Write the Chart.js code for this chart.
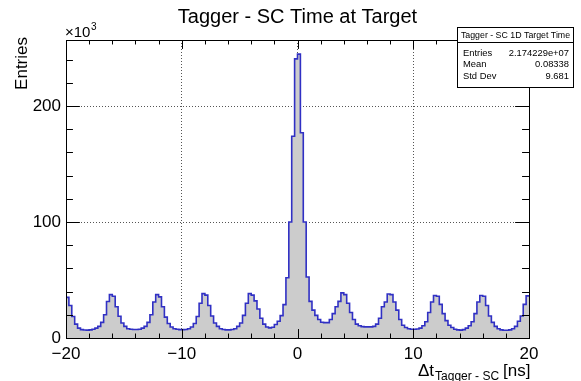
<!DOCTYPE html>
<html>
<head>
<meta charset="utf-8">
<script src="https://cdn.jsdelivr.net/npm/chart.js@4/dist/chart.umd.min.js"></script>
<style>
html,body{margin:0;padding:0;background:#fff;}
#wrap{width:581px;height:381px;position:relative;}
canvas{display:block;}
</style>
</head>
<body>
<div id="wrap"><canvas id="c" width="581" height="381"></canvas></div>
<script>
// ---- data (counts in units of 10^3 entries) ----
const histTitle = "Tagger - SC Time at Target";
const statsTitle = "Tagger - SC 1D Target Time";
const statsNames = ["Entries", "Mean", "Std Dev"];
const statsValues = ["2.174229e+07", "0.08338", "9.681"];
const binLow = -20;
const binWidth = 0.25;
const counts = [
  35, 28, 18.5, 12, 8.5, 7.2, 6.9, 6.8,
  7.0, 7.5, 8.5, 10, 13.5, 20, 31.5, 37.4,
  36, 27, 18.7, 13, 10, 8, 7.5, 7.3,
  7.3, 7.5, 8.5, 10, 13.5, 20, 31, 37.4,
  35.5, 27, 18, 12.5, 9.5, 8, 7.5, 7.2,
  7.2, 7.3, 8, 9.5, 12.5, 18.5, 30, 38.3,
  37, 28, 19, 13, 10, 8, 7.3, 7.0,
  7.0, 7.3, 8, 10, 13, 19.5, 30, 38.3,
  37, 32, 25, 17, 12, 9.5, 8.7, 9.3,
  11.6, 14.5, 19.3, 28.8, 52, 100, 174, 240.7,
  244.8, 177, 100, 52.6, 31.6, 24, 19.5, 16,
  13.6, 13.3, 13.3, 16, 21, 27, 31.6, 38.9,
  37.4, 30, 22, 16, 12, 10.5, 9.8, 9.6,
  9.6, 9.6, 10, 12, 17, 27, 31, 38,
  37.4, 31, 24, 16, 11, 9, 8, 7.6,
  7.6, 7.8, 8.5, 10.5, 14, 22, 31, 36.6,
  36, 29, 21, 15, 11, 9, 7.5, 7,
  6.8, 7.2, 8.5, 10.5, 14, 21, 31, 36.6,
  36, 28, 19, 13.5, 10, 8, 7, 6.7,
  6.7, 7, 8, 10, 14.5, 19, 29, 36.3
];
const xMin = -20, xMax = 20, yMin = 0, yMax = 257;
const xMajor = 10, xMinor = 2, yMajor = 100, yMinor = 20;

// stepped outline points at bin edges
const pts = counts.map((c, i) => ({x: binLow + i * binWidth, y: c}));
pts.push({x: binLow + counts.length * binWidth, y: counts[counts.length - 1]});

const FONT = "'Liberation Sans', Arial, Helvetica, sans-serif";

const rootPlugin = {
  id: 'rootDecor',
  afterDatasetsDraw(chart) {
    const ctx = chart.ctx, a = chart.chartArea;
    const xs = chart.scales.x, ys = chart.scales.y;
    ctx.save();
    // frame
    ctx.strokeStyle = '#000';
    ctx.lineWidth = 1;
    ctx.strokeRect(Math.round(a.left) + 0.5, Math.round(a.top) + 0.5,
                   Math.round(a.right - a.left), Math.round(a.bottom - a.top));
    // ticks (inward on all four sides)
    const H = a.bottom - a.top, W = a.right - a.left;
    const xMajLen = 0.03 * H, yMajLen = 0.03 * W;
    ctx.beginPath();
    for (let v = xMin; v <= xMax + 1e-9; v += xMinor) {
      const px = Math.round(xs.getPixelForValue(v)) + 0.5;
      const isMaj = Math.abs(v / xMajor - Math.round(v / xMajor)) < 1e-6;
      const len = isMaj ? xMajLen : xMajLen / 2;
      ctx.moveTo(px, a.bottom); ctx.lineTo(px, a.bottom - len);
      ctx.moveTo(px, a.top); ctx.lineTo(px, a.top + len);
    }
    for (let v = yMin; v <= yMax + 1e-9; v += yMinor) {
      const py = Math.round(ys.getPixelForValue(v)) + 0.5;
      const isMaj = Math.abs(v / yMajor - Math.round(v / yMajor)) < 1e-6;
      const len = isMaj ? yMajLen : yMajLen / 2;
      ctx.moveTo(a.left, py); ctx.lineTo(a.left + len, py);
      ctx.moveTo(a.right, py); ctx.lineTo(a.right - len, py);
    }
    ctx.stroke();

    ctx.fillStyle = '#000';
    // main title
    ctx.font = '20px ' + FONT;
    ctx.textAlign = 'center';
    ctx.textBaseline = 'alphabetic';
    ctx.fillText(histTitle, (a.left + a.right) / 2, 23);

    // x10^3
    ctx.textAlign = 'left';
    ctx.font = '15px ' + FONT;
    ctx.fillText('\u00d710', 65, 37);
    const w10 = ctx.measureText('\u00d710').width;
    ctx.font = '10px ' + FONT;
    ctx.fillText('3', 65 + w10 + 0.5, 30);

    // y title
    ctx.save();
    ctx.translate(27, 37);
    ctx.rotate(-Math.PI / 2);
    ctx.font = '17px ' + FONT;
    ctx.textAlign = 'right';
    ctx.fillText('Entries', 0, 0);
    ctx.restore();

    // x title with subscript
    let x0 = 418;
    ctx.textAlign = 'left';
    ctx.font = '17px ' + FONT;
    ctx.fillText('\u0394t', x0, 376);
    x0 += ctx.measureText('\u0394t').width + 1;
    ctx.font = '12px ' + FONT;
    ctx.fillText('Tagger - SC', x0, 379.5);
    x0 += ctx.measureText('Tagger - SC').width + 4;
    ctx.font = '17px ' + FONT;
    ctx.fillText('[ns]', x0, 376);

    // stats box
    const bx = 457, by = 27, bw = 116, bh = 60;
    ctx.fillStyle = '#fff';
    ctx.fillRect(bx, by, bw, bh);
    ctx.strokeStyle = '#000';
    ctx.lineWidth = 1;
    ctx.strokeRect(bx + 0.5, by + 0.5, bw, bh);
    ctx.beginPath();
    ctx.moveTo(bx, 42.5); ctx.lineTo(bx + bw, 42.5);
    ctx.stroke();
    ctx.fillStyle = '#000';
    ctx.font = '8.8px ' + FONT;
    ctx.textAlign = 'center';
    ctx.textBaseline = 'middle';
    ctx.fillText(statsTitle, bx + bw / 2 + 0.5, 35.5);
    ctx.font = '9.4px ' + FONT;
    const rowY = [53, 64.5, 76];
    for (let i = 0; i < statsNames.length; i++) {
      ctx.textAlign = 'left';
      ctx.fillText(statsNames[i], bx + 6, rowY[i]);
      ctx.textAlign = 'right';
      ctx.fillText(statsValues[i], bx + bw - 4, rowY[i]);
    }
    ctx.restore();
  }
};

new Chart(document.getElementById('c'), {
  type: 'line',
  data: {
    datasets: [{
      data: pts,
      stepped: 'before',
      borderColor: '#3030c4',
      borderWidth: 1.6,
      backgroundColor: '#cccccc',
      fill: 'origin',
      pointRadius: 0,
      tension: 0
    }]
  },
  options: {
    responsive: false,
    animation: false,
    events: [],
    layout: {padding: {top: 40, right: 52, left: 0, bottom: 0}},
    plugins: {legend: {display: false}, tooltip: {enabled: false}, title: {display: false}},
    scales: {
      x: {
        type: 'linear', min: xMin, max: xMax,
        afterFit(s) { s.height = 43; },
        ticks: {
          stepSize: xMajor, includeBounds: false, autoSkip: false, maxRotation: 0,
          padding: 6, color: '#000',
          font: {family: FONT, size: 17},
          callback: v => (v < 0 ? '\u2212' + Math.abs(v) : String(v))
        },
        grid: {drawTicks: false, color: '#555', lineWidth: 1},
        border: {display: false, dash: [1, 2]}
      },
      y: {
        type: 'linear', min: yMin, max: yMax,
        afterFit(s) { s.width = 66; },
        ticks: {
          stepSize: yMajor, includeBounds: false, padding: 5, color: '#000',
          font: {family: FONT, size: 17},
          callback: v => String(v)
        },
        grid: {drawTicks: false, color: '#555', lineWidth: 1},
        border: {display: false, dash: [1, 2]}
      }
    }
  },
  plugins: [rootPlugin]
});
</script>
</body>
</html>
